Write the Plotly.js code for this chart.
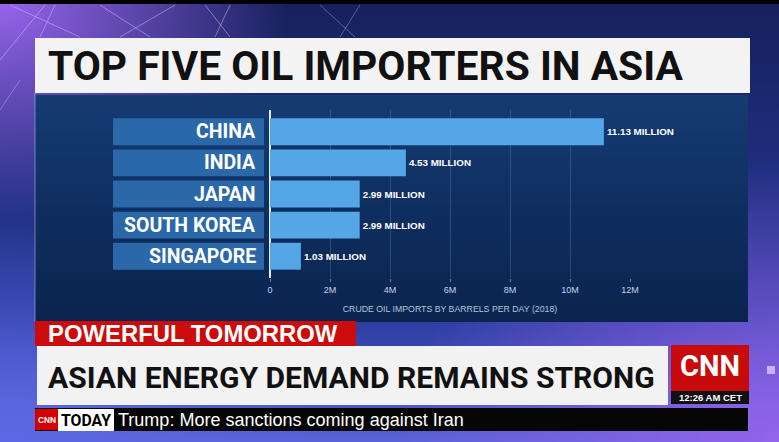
<!DOCTYPE html>
<html><head><meta charset="utf-8">
<script src="https://cdn.plot.ly/plotly-3.0.1.min.js"></script>
<style>
html,body{margin:0;padding:0;width:779px;height:442px;overflow:hidden;}
body{position:relative;background:
 linear-gradient(to bottom,#000 0,#000 4px,transparent 4px),
 radial-gradient(ellipse 290px 220px at 0% 0%,rgba(160,105,245,0.95),rgba(160,105,245,0) 100%),
 radial-gradient(ellipse 380px 280px at 100% 100%,rgba(150,100,235,0.95),rgba(150,100,235,0) 100%),
 radial-gradient(ellipse 320px 220px at 0% 100%,rgba(95,105,230,0.9),rgba(95,105,230,0) 100%),
 linear-gradient(to bottom,#16205c 0%,#283a9c 70%,#5a62d8 100%);}
#panel{position:absolute;left:35px;top:95px;width:713px;height:227px;
 background:linear-gradient(to bottom,#153c74 0%,#0f2e60 50%,#0a244e 100%);z-index:0;}
#chart{position:absolute;left:0;top:0;width:779px;height:442px;z-index:1;}
</style></head><body>
<div id="panel"></div>
<div id="chart"></div>
<script>
// ---- data ----
const categories = ['CHINA', 'INDIA', 'JAPAN', 'SOUTH KOREA', 'SINGAPORE'];
const imports = [11.13, 4.53, 2.99, 2.99, 1.03]; // million barrels per day (2018)
const tickVals = [0, 2, 4, 6, 8, 10, 12];
const tickText = ['0', '2M', '4M', '6M', '8M', '10M', '12M'];
const chartTitle = 'TOP FIVE OIL IMPORTERS IN ASIA';
const axisTitle = 'CRUDE OIL IMPORTS BY BARRELS PER DAY (2018)';
const valueLabels = imports.map(v => v.toFixed(2) + ' MILLION');

// ---- helpers ----
const W = 779, H = 442;
const px = x => x / W;
const py = y => 1 - y / H;
const SANS = '"Liberation Sans", Arial, sans-serif';
const ctx = document.createElement('canvas').getContext('2d');
const condensedCandidates = ['"DejaVu Sans Condensed"', '"Liberation Sans Narrow"', 'Roboto', '"Liberation Sans"', 'Lato', '"Noto Sans"', 'Inter'];
function pickCondensed(text) {
  let best = null;
  for (const f of condensedCandidates) {
    ctx.font = 'bold 100px ' + f;
    const m = ctx.measureText(text);
    const r = m.actualBoundingBoxAscent / m.width;
    if (!best || r > best.r) best = {f: f, r: r};
  }
  return best.f;
}
function fit(text, family, weight, target) {
  ctx.font = weight + ' 100px ' + family;
  return 100 * target / ctx.measureText(text).width;
}
const COND = pickCondensed(chartTitle) + ', "Liberation Sans", sans-serif';

const rect = (x0, y0, x1, y1, color) => ({type: 'rect', xref: 'paper', yref: 'paper', layer: 'below',
  x0: px(x0), x1: px(x1), y0: py(y1), y1: py(y0), fillcolor: color, line: {width: 0}});
const line = (x0, y0, x1, y1, color, w) => ({type: 'line', xref: 'paper', yref: 'paper', layer: 'below',
  x0: px(x0), x1: px(x1), y0: py(y0), y1: py(y1), line: {color: color, width: w}});
const note = (x, y, text, size, color, family, anchor, weight) => ({xref: 'paper', yref: 'paper',
  x: px(x), y: py(y), text: text, showarrow: false, xanchor: anchor || 'left', yanchor: 'middle',
  font: {size: size, color: color, family: family, weight: weight || 'bold'}});

const labelSize = Math.min(21, fit('SOUTH KOREA', COND, 'bold', 131));
const valueSize = fit(valueLabels[0], SANS, 'bold', 67);
const axisTitleSize = Math.min(9, fit(axisTitle, SANS, 'normal', 215));

const dataBars = {
  type: 'bar', orientation: 'h', y: categories, x: imports,
  xaxis: 'x', yaxis: 'y',
  marker: {color: '#55a6e6'},
  text: valueLabels, textposition: 'outside', cliponaxis: false,
  outsidetextfont: {size: valueSize, color: '#ffffff', family: SANS, weight: 'bold'},
  hoverinfo: 'skip'
};
const labelBoxes = {
  type: 'bar', orientation: 'h', y: categories, x: categories.map(() => 1),
  xaxis: 'x2', yaxis: 'y',
  marker: {color: '#2a68aa'}, hoverinfo: 'skip'
};

const lc = 'rgba(215,205,255,0.45)';
const shapes = [
  line(0, 60, 45, 5, lc, 1), line(10, 5, 80, 37, lc, 1), line(55, 5, 40, 37, lc, 1),
  line(100, 5, 150, 37, lc, 1), line(175, 5, 120, 37, lc, 1), line(205, 5, 230, 37, lc, 1),
  line(230, 5, 215, 37, lc, 1), line(320, 5, 355, 37, lc, 0.8), line(360, 5, 340, 37, lc, 0.8),
  line(0, 110, 20, 80, lc, 0.8), line(35, 93, 35, 322, 'rgba(200,210,255,0.5)', 1),
  rect(35, 38, 750, 93, '#f3f3f3'),
  rect(35, 321, 356, 346, '#cc0c0c'),
  rect(37, 346, 668, 405, '#f2f2f2'),
  rect(671, 345, 749, 391, '#c80a0a'),
  rect(671, 391, 749, 404, '#111111'),
  rect(35, 408, 748, 431, '#060606'),
  rect(35, 409, 58, 430, '#d40000'),
  rect(58, 409, 114, 431, '#ffffff'),
  rect(767, 366, 775, 374, 'rgba(215,195,255,0.85)')
];

const banner = 'ASIAN ENERGY DEMAND REMAINS STRONG';
const ticker = 'Trump: More sanctions coming against Iran';
const annotations = [
  note(46, 66, chartTitle, fit(chartTitle, COND, 'bold', 635), '#111111', COND),
  note(46, 333.5, 'POWERFUL TOMORROW', fit('POWERFUL TOMORROW', SANS, 'bold', 290), '#ffffff', SANS),
  note(46, 377, banner, fit(banner, COND, 'bold', 607), '#111111', COND),
  note(710, 366, 'CNN', fit('CNN', COND, 'bold', 60), '#ffffff', COND, 'center'),
  note(710, 397.5, '12:26 AM CET', Math.min(9.5, fit('12:26 AM CET', SANS, 'bold', 70)), '#ffffff', SANS, 'center'),
  note(46.5, 420, 'CNN', fit('CNN', SANS, 'bold', 18), '#ffffff', SANS, 'center'),
  note(86, 420, 'TODAY', fit('TODAY', COND, 'bold', 50), '#000000', COND, 'center'),
  note(116, 420, ticker, fit(ticker, SANS, 'normal', 346), '#ffffff', SANS, 'left', 'normal')
].concat(categories.map(c => ({
  xref: 'paper', yref: 'y', x: px(258), y: c, text: c, showarrow: false,
  xanchor: 'right', yanchor: 'middle',
  font: {size: labelSize, color: '#ffffff', family: COND, weight: 'bold'}
})));

const layout = {
  width: W, height: H,
  margin: {l: 0, r: 0, t: 0, b: 0},
  paper_bgcolor: 'rgba(0,0,0,0)', plot_bgcolor: 'rgba(0,0,0,0)',
  showlegend: false, bargap: 0.135,
  xaxis: {
    domain: [px(270), px(630)], range: [0, 12], anchor: 'y',
    tickvals: tickVals, ticktext: tickText,
    showgrid: true, gridcolor: 'rgba(150,185,230,0.22)', gridwidth: 1,
    zeroline: true, zerolinecolor: '#e6edf7', zerolinewidth: 2.5,
    ticks: 'outside', ticklen: 3, tickcolor: 'rgba(190,205,230,0.5)',
    tickfont: {size: 9, color: '#c6d2e6', family: SANS},
    title: {text: axisTitle, font: {size: axisTitleSize, color: '#b6c4dc', family: SANS}, standoff: 12},
    fixedrange: true
  },
  xaxis2: {domain: [px(113), px(264)], range: [0, 1], anchor: 'y', visible: false, fixedrange: true},
  yaxis: {
    domain: [py(278), py(110)], type: 'category', range: [4.7, -0.7],
    showticklabels: false, showgrid: false, zeroline: false, ticks: '', fixedrange: true
  },
  shapes: shapes,
  annotations: annotations
};

Plotly.newPlot('chart', [labelBoxes, dataBars], layout, {displayModeBar: false, staticPlot: true});
</script>
</body></html>
